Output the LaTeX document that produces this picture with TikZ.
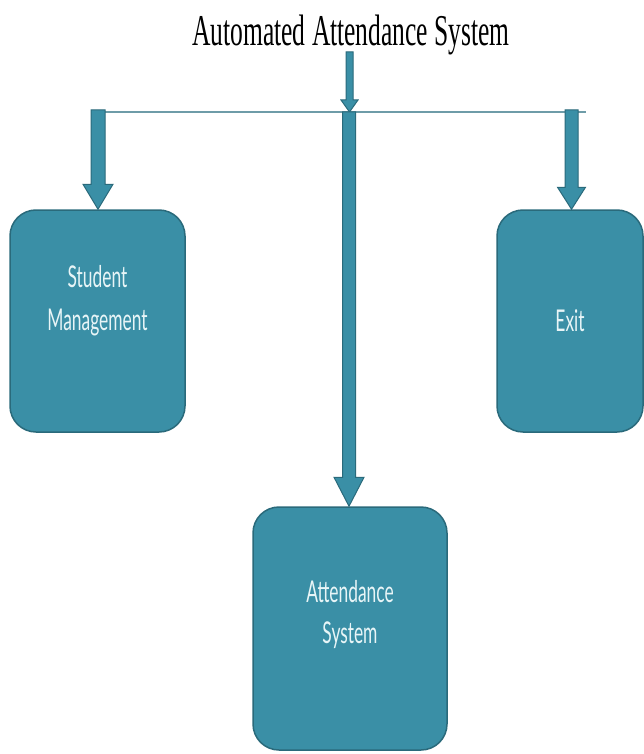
\documentclass[tikz,border=0pt]{standalone}
\usepackage{fontspec}
\setmainfont{Liberation Serif}
\newfontfamily\boxfont{Lato}
\usetikzlibrary{calc}
\definecolor{tealfill}{HTML}{3A8FA6}
\definecolor{tealedge}{HTML}{2A6A7B}
\definecolor{barline}{HTML}{6E9CA8}
\definecolor{boxtext}{HTML}{E8F5F7}
\tikzset{
  box/.style={draw=tealedge, line width=1.5pt, fill=tealfill, rounded corners=26pt,
    inner sep=0pt},
  boxlabel/.style={inner sep=0pt, text=boxtext, align=center,
    font=\boxfont\fontsize{30}{43}\selectfont},
  blockarrow/.style={draw=tealedge, line width=1pt, fill=tealfill, line join=miter}
}
\newcommand{\sq}[1]{\scalebox{0.58}[1]{#1}}
% \blockarr{from}{to}{shaft half}{head half}{head length}
\newcommand{\blockarr}[5]{%
  \path[blockarrow] let \p1=(#1), \p2=(#2) in
    (\x1-#3,\y1) -- (\x1+#3,\y1) -- (\x1+#3,\y2+#5) -- (\x1+#4,\y2+#5) --
    (\x1,\y2) -- (\x1-#4,\y2+#5) -- (\x1-#3,\y2+#5) -- cycle;}
\begin{document}
\begin{tikzpicture}[x=1pt,y=-1pt]
\useasboundingbox (0,0) rectangle (644,754);
\fill[white] (0,0) rectangle (644,754);
% title
\node[font=\fontsize{44}{44}\selectfont, anchor=base, inner sep=0pt] (title) at (351,46)
  {\scalebox{0.58}[1]{Automated Attendance System}};
\coordinate (tstart) at (349.5,52);
\coordinate (hmid) at (349.5,112);
% horizontal bar
\coordinate (hl) at (100,112);
\coordinate (hr) at (586,112);
\draw[barline, line width=2pt] (hl) -- (hr);
% boxes
\node[box, minimum width=175pt, minimum height=222pt,
  label={[boxlabel, yshift=20pt]center:\sq{Student}\\\sq{Management}}] (sm) at (97.5,321) {};
\node[box, minimum width=146pt, minimum height=222pt,
  label={[boxlabel, yshift=0pt]center:\sq{Exit}}] (ex) at (570,321) {};
\node[box, minimum width=194pt, minimum height=243pt,
  label={[boxlabel, yshift=14pt]center:\sq{Attendance}\\[-2pt]\sq{System}}] (as) at (350,628.5) {};
% arrows
\coordinate (lstart) at (98,110);
\coordinate (estart) at (571.5,110);
\coordinate (cstart) at (349,112);
\blockarr{tstart}{hmid}{3.5pt}{8.5pt}{12pt}
\blockarr{lstart}{sm.north}{7pt}{15pt}{25pt}
\blockarr{estart}{ex.north}{6.5pt}{14pt}{22pt}
\blockarr{cstart}{as.north}{6.5pt}{15pt}{29pt}
\end{tikzpicture}
\end{document}
